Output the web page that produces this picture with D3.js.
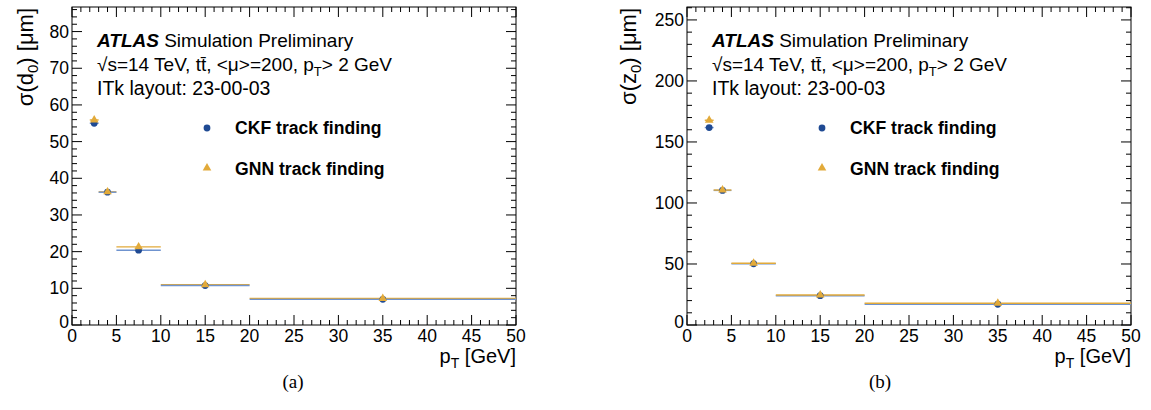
<!DOCTYPE html>
<html>
<head>
<meta charset="utf-8">
<script src="https://cdn.jsdelivr.net/npm/d3@7"></script>
<style>
  body { margin: 0; background: #fff; }
  svg { font-family: "Liberation Sans", Arial, sans-serif; }
</style>
</head>
<body>
<svg id="chart" width="1151" height="410"></svg>
<script>
// bins in pT [GeV]
const binLow = [2, 3, 5, 10, 20];
const binHigh = [3, 5, 10, 20, 50];
const binCenter = [2.5, 4, 7.5, 15, 35];

// sigma(d0) [um]
const d0CKF = [55.0, 36.2, 20.4, 10.75, 7.0];
const d0GNN = [55.9, 36.3, 21.3, 11.0, 7.25];

// sigma(z0) [um]
const z0CKF = [161.8, 110.3, 50.2, 24.0, 17.0];
const z0GNN = [167.8, 110.6, 50.6, 24.6, 17.8];

const xTicks = [0, 5, 10, 15, 20, 25, 30, 35, 40, 45, 50];
const d0Ticks = [0, 10, 20, 30, 40, 50, 60, 70, 80];
const z0Ticks = [0, 50, 100, 150, 200, 250];

const ckfMarker = "#1f4a93";
const ckfBar = "#6f93cf";
const gnnColor = "#e2aa3a";

var svg = d3.select("#chart");

function drawPanel(opt) {
    var g = svg.append("g");
    var x = d3.scaleLinear().domain([0, 50]).range([opt.left, opt.right]);
    var y = d3.scaleLinear().domain([0, opt.ymax]).range([opt.bottom, opt.top]);

    // frame
    g.append("rect")
        .attr("x", opt.left).attr("y", opt.top)
        .attr("width", opt.right - opt.left).attr("height", opt.bottom - opt.top)
        .attr("fill", "none").attr("stroke", "#000").attr("stroke-width", 1);

    // x ticks (bottom and top, inward)
    var xMinor = d3.range(0, 51, 1);
    xMinor.forEach(function (v) {
        var len = (v % 5 == 0) ? 10 : 5;
        g.append("line").attr("x1", x(v)).attr("x2", x(v))
            .attr("y1", opt.bottom).attr("y2", opt.bottom - len).attr("stroke", "#000");
        g.append("line").attr("x1", x(v)).attr("x2", x(v))
            .attr("y1", opt.top).attr("y2", opt.top + len).attr("stroke", "#000");
    });
    xTicks.forEach(function (v) {
        g.append("text").attr("x", x(v)).attr("y", opt.bottom + 17)
            .attr("text-anchor", "middle").attr("font-size", 17.5).text(v);
    });

    // y ticks (left and right, inward)
    var yMinor = d3.range(0, opt.ymax, opt.minorStep);
    yMinor.forEach(function (v) {
        var major = Math.abs(v / opt.majorStep - Math.round(v / opt.majorStep)) < 1e-6;
        var len = major ? 10 : 5;
        g.append("line").attr("x1", opt.left).attr("x2", opt.left + len)
            .attr("y1", y(v)).attr("y2", y(v)).attr("stroke", "#000");
        g.append("line").attr("x1", opt.right).attr("x2", opt.right - len)
            .attr("y1", y(v)).attr("y2", y(v)).attr("stroke", "#000");
    });
    opt.yTicks.forEach(function (v) {
        var t = g.append("text")
            .attr("x", opt.left - 3).attr("y", y(v) + 6)
            .attr("text-anchor", "end").attr("font-size", 17.5).text(v);
        if (v == 0) t.attr("y", y(v) + 3);
    });

    // y title
    var yt = g.append("text")
        .attr("transform", "translate(" + opt.titleX + "," + (opt.top + 1) + ") rotate(-90)")
        .attr("text-anchor", "end").attr("font-size", 22);
    yt.append("tspan").text("σ(" + opt.qty);
    yt.append("tspan").attr("font-size", 15).attr("dy", 5).text("0");
    yt.append("tspan").attr("dy", -5).text(") [μm]");

    // x title
    var xt = g.append("text")
        .attr("x", opt.right).attr("y", opt.bottom + 38)
        .attr("text-anchor", "end").attr("font-size", 20);
    xt.append("tspan").text("p");
    xt.append("tspan").attr("font-size", 14).attr("dy", 5).text("T");
    xt.append("tspan").attr("dy", -5).text(" [GeV]");

    // ATLAS label
    var lx = opt.left + 25;
    var l1 = g.append("text").attr("x", lx).attr("y", 47).attr("font-size", 19);
    l1.append("tspan").attr("font-weight", "bold").attr("font-style", "italic").text("ATLAS");
    l1.append("tspan").text(" Simulation Preliminary");
    var l2 = g.append("text").attr("x", lx).attr("y", 71).attr("font-size", 19);
    l2.append("tspan").text("√s=14 TeV, tt\u0304, <μ>=200, p");
    l2.append("tspan").attr("font-size", 13).attr("dy", 5).text("T");
    l2.append("tspan").attr("dy", -5).text("> 2 GeV");
    g.append("text").attr("x", lx).attr("y", 95).attr("font-size", 19.5).text("ITk layout: 23-00-03");

    // error bars
    var series = [
        { vals: opt.ckf, color: ckfBar },
        { vals: opt.gnn, color: gnnColor }
    ];
    if (opt.ckfOnTop) series.reverse();
    series.forEach(function (s) {
        g.selectAll(null).data(s.vals).enter().append("line")
            .attr("x1", function (d, i) { return x(binLow[i]); })
            .attr("x2", function (d, i) { return x(binHigh[i]); })
            .attr("y1", function (d) { return y(d); })
            .attr("y2", function (d) { return y(d); })
            .attr("stroke", s.color).attr("stroke-width", 1.4);
    });

    // markers
    var tri = d3.symbol().type(d3.symbolTriangle).size(32);
    g.selectAll(null).data(opt.ckf).enter().append("circle")
        .attr("cx", function (d, i) { return x(binCenter[i]); })
        .attr("cy", function (d) { return y(d); })
        .attr("r", 3.4).attr("fill", ckfMarker);
    g.selectAll(null).data(opt.gnn).enter().append("path")
        .attr("d", tri)
        .attr("transform", function (d, i) { return "translate(" + x(binCenter[i]) + "," + y(d) + ")"; })
        .attr("fill", gnnColor);

    // legend
    var mx = opt.left + 135;
    g.append("circle").attr("cx", mx).attr("cy", 128).attr("r", 3.4).attr("fill", ckfMarker);
    g.append("path").attr("d", tri).attr("transform", "translate(" + mx + ",168)").attr("fill", gnnColor);
    g.append("text").attr("x", mx + 28).attr("y", 134).attr("font-size", 17.6)
        .attr("font-weight", "bold").text("CKF track finding");
    g.append("text").attr("x", mx + 28).attr("y", 175).attr("font-size", 17.6)
        .attr("font-weight", "bold").text("GNN track finding");

    // caption
    svg.append("text").attr("x", opt.captionX).attr("y", 388)
        .attr("text-anchor", "middle").attr("font-family", "'Liberation Serif', serif")
        .attr("font-size", 19).text(opt.caption);
}

drawPanel({
    left: 72, right: 516, top: 7, bottom: 325, titleX: 33,
    ymax: 86.7, majorStep: 10, minorStep: 2, yTicks: d0Ticks,
    qty: "d", ckf: d0CKF, gnn: d0GNN, ckfOnTop: true,
    caption: "(a)", captionX: 293
});
drawPanel({
    left: 687, right: 1131, top: 7, bottom: 325, titleX: 636,
    ymax: 260.6, majorStep: 50, minorStep: 10, yTicks: z0Ticks,
    qty: "z", ckf: z0CKF, gnn: z0GNN, ckfOnTop: false,
    caption: "(b)", captionX: 880
});
</script>
</body>
</html>
